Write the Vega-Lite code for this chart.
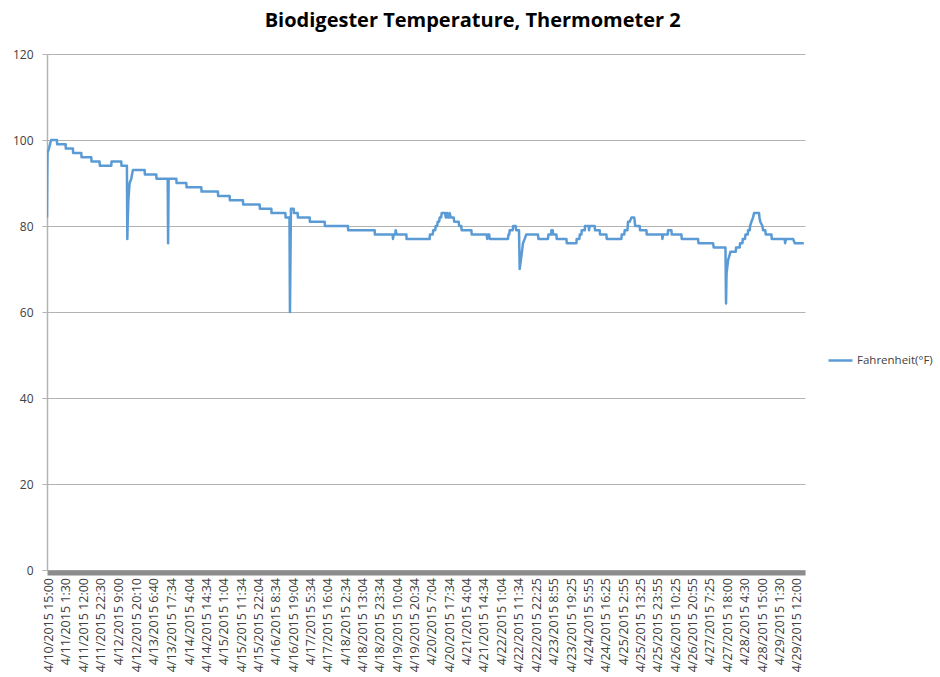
{
  "$schema": "https://vega.github.io/schema/vega-lite/v6.json",
  "width": 758,
  "height": 516,
  "autosize": "none",
  "padding": {"left": 47, "top": 54, "right": 135, "bottom": 107},
  "background": "white",
  "title": {"text": "Biodigester Temperature, Thermometer 2", "font": "Open Sans", "fontSize": 20, "fontWeight": "bold", "color": "#000000", "anchor": "middle", "frame": "bounds", "offset": 17},
  "data": {"values": [
    {"time": "2015-04-10T14:00", "fahrenheit": 82},
    {"time": "2015-04-10T14:10", "fahrenheit": 92},
    {"time": "2015-04-10T14:20", "fahrenheit": 97},
    {"time": "2015-04-10T15:10", "fahrenheit": 98},
    {"time": "2015-04-10T15:50", "fahrenheit": 99},
    {"time": "2015-04-10T16:30", "fahrenheit": 100},
    {"time": "2015-04-10T20:00", "fahrenheit": 100},
    {"time": "2015-04-10T20:08", "fahrenheit": 99},
    {"time": "2015-04-11T01:16", "fahrenheit": 99},
    {"time": "2015-04-11T01:24", "fahrenheit": 98},
    {"time": "2015-04-11T05:41", "fahrenheit": 98},
    {"time": "2015-04-11T05:49", "fahrenheit": 97},
    {"time": "2015-04-11T10:46", "fahrenheit": 97},
    {"time": "2015-04-11T10:54", "fahrenheit": 96},
    {"time": "2015-04-11T16:49", "fahrenheit": 96},
    {"time": "2015-04-11T16:57", "fahrenheit": 95},
    {"time": "2015-04-11T21:51", "fahrenheit": 95},
    {"time": "2015-04-11T21:59", "fahrenheit": 94},
    {"time": "2015-04-12T04:56", "fahrenheit": 94},
    {"time": "2015-04-12T05:04", "fahrenheit": 95},
    {"time": "2015-04-12T10:59", "fahrenheit": 95},
    {"time": "2015-04-12T11:07", "fahrenheit": 94},
    {"time": "2015-04-12T14:23", "fahrenheit": 94},
    {"time": "2015-04-12T14:38", "fahrenheit": 77},
    {"time": "2015-04-12T14:56", "fahrenheit": 82},
    {"time": "2015-04-12T15:17", "fahrenheit": 86},
    {"time": "2015-04-12T16:01", "fahrenheit": 90},
    {"time": "2015-04-12T17:03", "fahrenheit": 91},
    {"time": "2015-04-12T17:30", "fahrenheit": 92},
    {"time": "2015-04-12T18:01", "fahrenheit": 93},
    {"time": "2015-04-13T01:07", "fahrenheit": 93},
    {"time": "2015-04-13T01:15", "fahrenheit": 92},
    {"time": "2015-04-13T08:11", "fahrenheit": 92},
    {"time": "2015-04-13T08:19", "fahrenheit": 91},
    {"time": "2015-04-13T15:05", "fahrenheit": 91},
    {"time": "2015-04-13T15:20", "fahrenheit": 76},
    {"time": "2015-04-13T15:40", "fahrenheit": 91},
    {"time": "2015-04-13T20:19", "fahrenheit": 91},
    {"time": "2015-04-13T20:27", "fahrenheit": 90},
    {"time": "2015-04-14T02:22", "fahrenheit": 90},
    {"time": "2015-04-14T02:30", "fahrenheit": 89},
    {"time": "2015-04-14T11:27", "fahrenheit": 89},
    {"time": "2015-04-14T11:35", "fahrenheit": 88},
    {"time": "2015-04-14T21:30", "fahrenheit": 88},
    {"time": "2015-04-14T21:38", "fahrenheit": 87},
    {"time": "2015-04-15T04:35", "fahrenheit": 87},
    {"time": "2015-04-15T04:43", "fahrenheit": 86},
    {"time": "2015-04-15T12:39", "fahrenheit": 86},
    {"time": "2015-04-15T12:47", "fahrenheit": 85},
    {"time": "2015-04-15T22:46", "fahrenheit": 85},
    {"time": "2015-04-15T22:54", "fahrenheit": 84},
    {"time": "2015-04-16T05:51", "fahrenheit": 84},
    {"time": "2015-04-16T05:59", "fahrenheit": 83},
    {"time": "2015-04-16T14:20", "fahrenheit": 83},
    {"time": "2015-04-16T14:28", "fahrenheit": 82},
    {"time": "2015-04-16T16:50", "fahrenheit": 82},
    {"time": "2015-04-16T17:07", "fahrenheit": 60},
    {"time": "2015-04-16T17:43", "fahrenheit": 84},
    {"time": "2015-04-16T19:21", "fahrenheit": 84},
    {"time": "2015-04-16T19:29", "fahrenheit": 83},
    {"time": "2015-04-16T21:47", "fahrenheit": 83},
    {"time": "2015-04-16T21:55", "fahrenheit": 82},
    {"time": "2015-04-17T05:03", "fahrenheit": 82},
    {"time": "2015-04-17T05:11", "fahrenheit": 81},
    {"time": "2015-04-17T14:08", "fahrenheit": 81},
    {"time": "2015-04-17T14:16", "fahrenheit": 80},
    {"time": "2015-04-18T04:14", "fahrenheit": 80},
    {"time": "2015-04-18T04:22", "fahrenheit": 79},
    {"time": "2015-04-18T20:25", "fahrenheit": 79},
    {"time": "2015-04-18T20:33", "fahrenheit": 78},
    {"time": "2015-04-19T07:19", "fahrenheit": 78},
    {"time": "2015-04-19T07:30", "fahrenheit": 77},
    {"time": "2015-04-19T07:55", "fahrenheit": 78},
    {"time": "2015-04-19T08:50", "fahrenheit": 78},
    {"time": "2015-04-19T09:08", "fahrenheit": 79},
    {"time": "2015-04-19T09:44", "fahrenheit": 78},
    {"time": "2015-04-19T15:37", "fahrenheit": 78},
    {"time": "2015-04-19T15:45", "fahrenheit": 77},
    {"time": "2015-04-20T05:44", "fahrenheit": 77},
    {"time": "2015-04-20T05:52", "fahrenheit": 78},
    {"time": "2015-04-20T07:33", "fahrenheit": 78},
    {"time": "2015-04-20T07:51", "fahrenheit": 79},
    {"time": "2015-04-20T09:04", "fahrenheit": 79},
    {"time": "2015-04-20T09:22", "fahrenheit": 80},
    {"time": "2015-04-20T10:16", "fahrenheit": 80},
    {"time": "2015-04-20T10:34", "fahrenheit": 81},
    {"time": "2015-04-20T11:29", "fahrenheit": 81},
    {"time": "2015-04-20T11:47", "fahrenheit": 82},
    {"time": "2015-04-20T12:41", "fahrenheit": 82},
    {"time": "2015-04-20T13:00", "fahrenheit": 83},
    {"time": "2015-04-20T15:07", "fahrenheit": 83},
    {"time": "2015-04-20T15:25", "fahrenheit": 82},
    {"time": "2015-04-20T16:02", "fahrenheit": 82},
    {"time": "2015-04-20T16:20", "fahrenheit": 83},
    {"time": "2015-04-20T16:56", "fahrenheit": 82},
    {"time": "2015-04-20T17:32", "fahrenheit": 82},
    {"time": "2015-04-20T17:50", "fahrenheit": 83},
    {"time": "2015-04-20T18:27", "fahrenheit": 82},
    {"time": "2015-04-20T20:16", "fahrenheit": 82},
    {"time": "2015-04-20T20:34", "fahrenheit": 81},
    {"time": "2015-04-20T23:17", "fahrenheit": 81},
    {"time": "2015-04-20T23:36", "fahrenheit": 80},
    {"time": "2015-04-21T00:49", "fahrenheit": 80},
    {"time": "2015-04-21T01:07", "fahrenheit": 79},
    {"time": "2015-04-21T06:59", "fahrenheit": 79},
    {"time": "2015-04-21T07:10", "fahrenheit": 78},
    {"time": "2015-04-21T16:15", "fahrenheit": 78},
    {"time": "2015-04-21T16:34", "fahrenheit": 77},
    {"time": "2015-04-21T17:02", "fahrenheit": 78},
    {"time": "2015-04-21T17:46", "fahrenheit": 78},
    {"time": "2015-04-21T18:04", "fahrenheit": 77},
    {"time": "2015-04-22T05:09", "fahrenheit": 77},
    {"time": "2015-04-22T05:24", "fahrenheit": 78},
    {"time": "2015-04-22T05:53", "fahrenheit": 78},
    {"time": "2015-04-22T06:11", "fahrenheit": 79},
    {"time": "2015-04-22T08:00", "fahrenheit": 79},
    {"time": "2015-04-22T08:18", "fahrenheit": 80},
    {"time": "2015-04-22T09:49", "fahrenheit": 80},
    {"time": "2015-04-22T10:07", "fahrenheit": 79},
    {"time": "2015-04-22T11:49", "fahrenheit": 79},
    {"time": "2015-04-22T12:14", "fahrenheit": 70},
    {"time": "2015-04-22T13:16", "fahrenheit": 73},
    {"time": "2015-04-22T14:14", "fahrenheit": 76},
    {"time": "2015-04-22T15:16", "fahrenheit": 77},
    {"time": "2015-04-22T16:11", "fahrenheit": 78},
    {"time": "2015-04-22T23:19", "fahrenheit": 78},
    {"time": "2015-04-22T23:34", "fahrenheit": 77},
    {"time": "2015-04-23T05:23", "fahrenheit": 77},
    {"time": "2015-04-23T05:37", "fahrenheit": 78},
    {"time": "2015-04-23T07:19", "fahrenheit": 78},
    {"time": "2015-04-23T07:26", "fahrenheit": 79},
    {"time": "2015-04-23T08:14", "fahrenheit": 79},
    {"time": "2015-04-23T08:32", "fahrenheit": 78},
    {"time": "2015-04-23T10:28", "fahrenheit": 78},
    {"time": "2015-04-23T10:39", "fahrenheit": 77},
    {"time": "2015-04-23T16:32", "fahrenheit": 77},
    {"time": "2015-04-23T16:43", "fahrenheit": 76},
    {"time": "2015-04-23T22:35", "fahrenheit": 76},
    {"time": "2015-04-23T22:46", "fahrenheit": 77},
    {"time": "2015-04-24T00:24", "fahrenheit": 77},
    {"time": "2015-04-24T00:35", "fahrenheit": 78},
    {"time": "2015-04-24T01:37", "fahrenheit": 78},
    {"time": "2015-04-24T01:47", "fahrenheit": 79},
    {"time": "2015-04-24T03:37", "fahrenheit": 79},
    {"time": "2015-04-24T03:47", "fahrenheit": 80},
    {"time": "2015-04-24T06:02", "fahrenheit": 80},
    {"time": "2015-04-24T06:13", "fahrenheit": 79},
    {"time": "2015-04-24T06:38", "fahrenheit": 80},
    {"time": "2015-04-24T09:40", "fahrenheit": 80},
    {"time": "2015-04-24T09:51", "fahrenheit": 79},
    {"time": "2015-04-24T12:42", "fahrenheit": 79},
    {"time": "2015-04-24T12:53", "fahrenheit": 78},
    {"time": "2015-04-24T16:45", "fahrenheit": 78},
    {"time": "2015-04-24T16:56", "fahrenheit": 77},
    {"time": "2015-04-25T01:50", "fahrenheit": 77},
    {"time": "2015-04-25T02:01", "fahrenheit": 78},
    {"time": "2015-04-25T03:32", "fahrenheit": 78},
    {"time": "2015-04-25T03:50", "fahrenheit": 79},
    {"time": "2015-04-25T05:28", "fahrenheit": 79},
    {"time": "2015-04-25T05:40", "fahrenheit": 80},
    {"time": "2015-04-25T05:50", "fahrenheit": 81},
    {"time": "2015-04-25T06:52", "fahrenheit": 81},
    {"time": "2015-04-25T07:54", "fahrenheit": 82},
    {"time": "2015-04-25T09:35", "fahrenheit": 82},
    {"time": "2015-04-25T09:54", "fahrenheit": 81},
    {"time": "2015-04-25T10:12", "fahrenheit": 80},
    {"time": "2015-04-25T12:55", "fahrenheit": 80},
    {"time": "2015-04-25T13:06", "fahrenheit": 79},
    {"time": "2015-04-25T16:59", "fahrenheit": 79},
    {"time": "2015-04-25T17:10", "fahrenheit": 78},
    {"time": "2015-04-26T02:33", "fahrenheit": 78},
    {"time": "2015-04-26T02:40", "fahrenheit": 77},
    {"time": "2015-04-26T03:02", "fahrenheit": 78},
    {"time": "2015-04-26T05:53", "fahrenheit": 78},
    {"time": "2015-04-26T06:04", "fahrenheit": 79},
    {"time": "2015-04-26T08:07", "fahrenheit": 79},
    {"time": "2015-04-26T08:18", "fahrenheit": 78},
    {"time": "2015-04-26T14:11", "fahrenheit": 78},
    {"time": "2015-04-26T14:22", "fahrenheit": 77},
    {"time": "2015-04-27T00:14", "fahrenheit": 77},
    {"time": "2015-04-27T00:29", "fahrenheit": 76},
    {"time": "2015-04-27T09:19", "fahrenheit": 76},
    {"time": "2015-04-27T09:44", "fahrenheit": 75},
    {"time": "2015-04-27T16:50", "fahrenheit": 75},
    {"time": "2015-04-27T17:11", "fahrenheit": 62},
    {"time": "2015-04-27T17:30", "fahrenheit": 69},
    {"time": "2015-04-27T18:25", "fahrenheit": 72},
    {"time": "2015-04-27T19:52", "fahrenheit": 74},
    {"time": "2015-04-27T23:04", "fahrenheit": 74},
    {"time": "2015-04-27T23:15", "fahrenheit": 75},
    {"time": "2015-04-28T01:29", "fahrenheit": 75},
    {"time": "2015-04-28T01:40", "fahrenheit": 76},
    {"time": "2015-04-28T03:08", "fahrenheit": 76},
    {"time": "2015-04-28T03:19", "fahrenheit": 77},
    {"time": "2015-04-28T04:42", "fahrenheit": 77},
    {"time": "2015-04-28T04:57", "fahrenheit": 78},
    {"time": "2015-04-28T06:20", "fahrenheit": 78},
    {"time": "2015-04-28T06:31", "fahrenheit": 79},
    {"time": "2015-04-28T07:33", "fahrenheit": 79},
    {"time": "2015-04-28T07:44", "fahrenheit": 80},
    {"time": "2015-04-28T08:35", "fahrenheit": 81},
    {"time": "2015-04-28T09:33", "fahrenheit": 82},
    {"time": "2015-04-28T10:09", "fahrenheit": 83},
    {"time": "2015-04-28T13:11", "fahrenheit": 83},
    {"time": "2015-04-28T13:25", "fahrenheit": 82},
    {"time": "2015-04-28T13:55", "fahrenheit": 81},
    {"time": "2015-04-28T15:14", "fahrenheit": 80},
    {"time": "2015-04-28T15:37", "fahrenheit": 79},
    {"time": "2015-04-28T16:56", "fahrenheit": 79},
    {"time": "2015-04-28T17:14", "fahrenheit": 78},
    {"time": "2015-04-28T20:41", "fahrenheit": 78},
    {"time": "2015-04-28T20:52", "fahrenheit": 77},
    {"time": "2015-04-29T04:45", "fahrenheit": 77},
    {"time": "2015-04-29T04:56", "fahrenheit": 76},
    {"time": "2015-04-29T05:32", "fahrenheit": 77},
    {"time": "2015-04-29T09:47", "fahrenheit": 77},
    {"time": "2015-04-29T10:49", "fahrenheit": 76},
    {"time": "2015-04-29T16:16", "fahrenheit": 76}
  ]},
  "mark": {"type": "line", "strokeWidth": 2.5, "strokeJoin": "round", "clip": true},
  "encoding": {
    "x": {
      "field": "time",
      "type": "temporal",
      "scale": {"domain": [
        {"year": 2015, "month": 4, "date": 10, "hours": 14, "minutes": 0},
        {"year": 2015, "month": 4, "date": 29, "hours": 17, "minutes": 0}
      ]},
      "axis": {
        "title": null,
        "values": [
          {"year": 2015, "month": 4, "date": 10, "hours": 15, "minutes": 0},
          {"year": 2015, "month": 4, "date": 11, "hours": 1, "minutes": 30},
          {"year": 2015, "month": 4, "date": 11, "hours": 12, "minutes": 0},
          {"year": 2015, "month": 4, "date": 11, "hours": 22, "minutes": 30},
          {"year": 2015, "month": 4, "date": 12, "hours": 9, "minutes": 0},
          {"year": 2015, "month": 4, "date": 12, "hours": 20, "minutes": 10},
          {"year": 2015, "month": 4, "date": 13, "hours": 6, "minutes": 40},
          {"year": 2015, "month": 4, "date": 13, "hours": 17, "minutes": 34},
          {"year": 2015, "month": 4, "date": 14, "hours": 4, "minutes": 4},
          {"year": 2015, "month": 4, "date": 14, "hours": 14, "minutes": 34},
          {"year": 2015, "month": 4, "date": 15, "hours": 1, "minutes": 4},
          {"year": 2015, "month": 4, "date": 15, "hours": 11, "minutes": 34},
          {"year": 2015, "month": 4, "date": 15, "hours": 22, "minutes": 4},
          {"year": 2015, "month": 4, "date": 16, "hours": 8, "minutes": 34},
          {"year": 2015, "month": 4, "date": 16, "hours": 19, "minutes": 4},
          {"year": 2015, "month": 4, "date": 17, "hours": 5, "minutes": 34},
          {"year": 2015, "month": 4, "date": 17, "hours": 16, "minutes": 4},
          {"year": 2015, "month": 4, "date": 18, "hours": 2, "minutes": 34},
          {"year": 2015, "month": 4, "date": 18, "hours": 13, "minutes": 4},
          {"year": 2015, "month": 4, "date": 18, "hours": 23, "minutes": 34},
          {"year": 2015, "month": 4, "date": 19, "hours": 10, "minutes": 4},
          {"year": 2015, "month": 4, "date": 19, "hours": 20, "minutes": 34},
          {"year": 2015, "month": 4, "date": 20, "hours": 7, "minutes": 4},
          {"year": 2015, "month": 4, "date": 20, "hours": 17, "minutes": 34},
          {"year": 2015, "month": 4, "date": 21, "hours": 4, "minutes": 4},
          {"year": 2015, "month": 4, "date": 21, "hours": 14, "minutes": 34},
          {"year": 2015, "month": 4, "date": 22, "hours": 1, "minutes": 4},
          {"year": 2015, "month": 4, "date": 22, "hours": 11, "minutes": 34},
          {"year": 2015, "month": 4, "date": 22, "hours": 22, "minutes": 25},
          {"year": 2015, "month": 4, "date": 23, "hours": 8, "minutes": 55},
          {"year": 2015, "month": 4, "date": 23, "hours": 19, "minutes": 25},
          {"year": 2015, "month": 4, "date": 24, "hours": 5, "minutes": 55},
          {"year": 2015, "month": 4, "date": 24, "hours": 16, "minutes": 25},
          {"year": 2015, "month": 4, "date": 25, "hours": 2, "minutes": 55},
          {"year": 2015, "month": 4, "date": 25, "hours": 13, "minutes": 25},
          {"year": 2015, "month": 4, "date": 25, "hours": 23, "minutes": 55},
          {"year": 2015, "month": 4, "date": 26, "hours": 10, "minutes": 25},
          {"year": 2015, "month": 4, "date": 26, "hours": 20, "minutes": 55},
          {"year": 2015, "month": 4, "date": 27, "hours": 7, "minutes": 25},
          {"year": 2015, "month": 4, "date": 27, "hours": 18, "minutes": 0},
          {"year": 2015, "month": 4, "date": 28, "hours": 4, "minutes": 30},
          {"year": 2015, "month": 4, "date": 28, "hours": 15, "minutes": 0},
          {"year": 2015, "month": 4, "date": 29, "hours": 1, "minutes": 30},
          {"year": 2015, "month": 4, "date": 29, "hours": 12, "minutes": 0}
        ],
        "format": "%-m/%-d/%Y %-H:%M",
        "labelAngle": -90,
        "labelFont": "Open Sans",
        "labelFontSize": 12.5,
        "labelColor": "#404040",
        "labelOverlap": false,
        "labelFlush": false,
        "labelBound": false,
        "ticks": false,
        "grid": false,
        "domainColor": "#8c8c8c",
        "domainWidth": 5,
        "offset": 2.5,
        "labelPadding": 5
      }
    },
    "y": {
      "field": "fahrenheit",
      "type": "quantitative",
      "scale": {"domain": [0, 120], "nice": false, "zero": true},
      "axis": {
        "title": null,
        "values": [0, 20, 40, 60, 80, 100, 120],
        "grid": true,
        "gridColor": "#b3b3b3",
        "gridWidth": 1,
        "domainColor": "#b3b3b3",
        "domainWidth": 1.5,
        "tickColor": "#b3b3b3",
        "tickSize": 5,
        "labelPadding": 9,
        "labelFont": "Open Sans",
        "labelFontSize": 12,
        "labelColor": "#404040"
      }
    },
    "color": {
      "datum": "Fahrenheit(°F)",
      "type": "nominal",
      "scale": {"range": ["#5B9BD5"]},
      "legend": {
        "title": null,
        "orient": "none",
        "legendX": 780,
        "legendY": 293,
        "padding": 0,
        "symbolType": "stroke",
        "symbolStrokeWidth": 2.5,
        "symbolSize": 576,
        "labelFont": "Open Sans",
        "labelFontSize": 11.5,
        "labelColor": "#404040",
        "labelOffset": 3
      }
    }
  },
  "config": {"view": {"stroke": null}}
}
